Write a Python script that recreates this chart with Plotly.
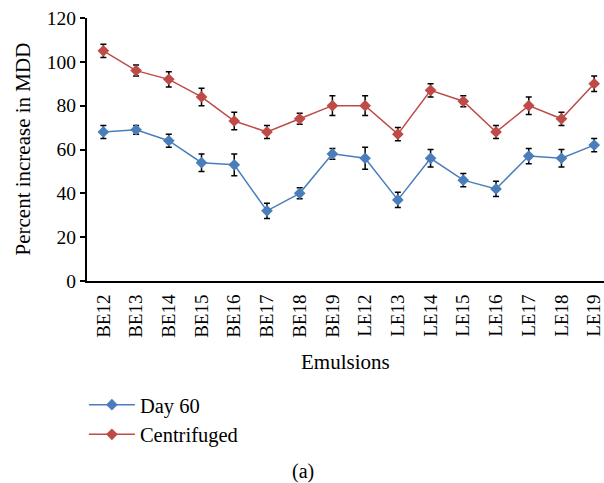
import plotly.graph_objects as go

categories = ["BE12", "BE13", "BE14", "BE15", "BE16", "BE17", "BE18", "BE19",
              "LE12", "LE13", "LE14", "LE15", "LE16", "LE17", "LE18", "LE19"]
day60 = [68, 69, 64, 54, 53, 32, 40, 58, 56, 37, 56, 46, 42, 57, 56, 62]
day60_err = [3, 2, 3, 4, 5, 3.5, 2.5, 2.5, 5, 3.5, 4, 3, 3.5, 3.5, 4, 3]
centrifuged = [105, 96, 92, 84, 73, 68, 74, 80, 80, 67, 87, 82, 68, 80, 74, 90]
centrifuged_err = [3, 2.5, 3.5, 4, 4, 3, 2.5, 4.5, 4.5, 3, 3, 2.5, 3, 4, 3, 3.5]

FONT = "Liberation Serif"
xs = list(range(len(categories)))

fig = go.Figure()
fig.add_trace(go.Scatter(
    x=xs, y=day60, name="Day 60", mode="lines+markers",
    line=dict(color="#4a7ebb", width=1.5),
    marker=dict(symbol="diamond", size=9, color="#4a7ebb"),
    error_y=dict(type="data", array=day60_err, color="black", thickness=1.5, width=3),
))
fig.add_trace(go.Scatter(
    x=xs, y=centrifuged, name="Centrifuged", mode="lines+markers",
    line=dict(color="#be4b48", width=1.5),
    marker=dict(symbol="diamond", size=9, color="#be4b48"),
    error_y=dict(type="data", array=centrifuged_err, color="black", thickness=1.5, width=3),
))

fig.update_layout(
    width=604, height=483,
    margin=dict(l=87, r=0, t=18, b=202),
    paper_bgcolor="white", plot_bgcolor="white",
    font=dict(family=FONT, size=21, color="black"),
    showlegend=True,
    legend=dict(x=-0.006, y=-0.395, xanchor="left", yanchor="top",
                font=dict(family=FONT, size=20.5), tracegroupgap=0,
                itemwidth=46, bgcolor="rgba(0,0,0,0)"),
    xaxis=dict(
        tickmode="array", tickvals=xs, ticktext=categories, tickangle=-90,
        range=[-0.5, 15.3], showline=True, linecolor="black", linewidth=2,
        ticks="outside", ticklen=4, tickcolor="rgba(0,0,0,0)",
        showgrid=False, zeroline=False, ticklabeloverflow="allow",
        tickfont=dict(family=FONT, size=19),
    ),
    yaxis=dict(
        range=[0, 120], tickvals=[0, 20, 40, 60, 80, 100, 120],
        showline=True, linecolor="black", linewidth=2,
        ticks="outside", ticklen=5, tickwidth=1.5, tickcolor="black",
        showgrid=False, zeroline=False,
        tickfont=dict(family=FONT, size=19.5),
    ),
    annotations=[
        dict(text="Percent increase in MDD", x=(22 - 87) / 517, xref="paper", y=0.5, yref="paper",
             textangle=-90, showarrow=False, font=dict(family=FONT, size=21),
             xanchor="center", yanchor="middle"),
        dict(text="Emulsions", x=0.5, xref="paper", y=-0.308, yref="paper",
             showarrow=False, font=dict(family=FONT, size=21),
             xanchor="center", yanchor="middle"),
        dict(text="(a)", x=0.418, xref="paper", y=-0.726, yref="paper",
             showarrow=False, font=dict(family=FONT, size=20),
             xanchor="center", yanchor="middle"),
    ],
)

fig.write_html("out.html")
